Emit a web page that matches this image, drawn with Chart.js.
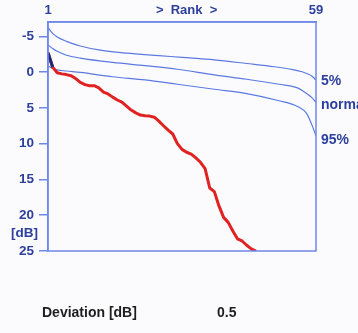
<!DOCTYPE html>
<html>
<head>
<meta charset="utf-8">
<script src="https://cdn.jsdelivr.net/npm/chart.js@4.4.1/dist/chart.umd.min.js"></script>
<style>
  html, body { margin: 0; padding: 0; background: #fbfbfd; }
  #wrap { position: relative; width: 358px; height: 333px; }
</style>
</head>
<body>
<div id="wrap"><canvas id="chart" width="358" height="333"></canvas></div>
<script>
// rank axis (1..59), deviation in dB (axis runs downward)
var yTicks = [-5, 0, 5, 10, 15, 20, 25];
var topTicks = [1, 31, 59];
var topLabels = { 1: '1', 31: '>  Rank  >', 59: '59' };

// measured curve, rank 1..46
var measured = [-2.7, -0.7, 0.1, 0.25, 0.35, 0.5, 0.9, 1.45, 1.75, 1.9,
  1.9, 2.2, 2.8, 3.05, 3.5, 3.9, 4.2, 4.75, 5.3, 5.7,
  6.0, 6.1, 6.15, 6.3, 6.85, 7.5, 8.1, 8.65, 10.0, 10.8,
  11.2, 11.45, 12.0, 12.6, 13.5, 16.2, 16.7, 18.7, 20.3, 21.0,
  22.2, 23.3, 23.6, 24.2, 24.7, 25.0];
var measuredStart = [-2.7, -0.7]; // dark part, ranks 1-2

// reference curves
var p5Rank = [1, 2, 3, 5, 8, 12, 18, 25, 30, 37, 44, 50, 54, 56, 57, 58, 59];
var p5 = [-6.2, -5.4, -4.9, -4.3, -3.65, -3.1, -2.65, -2.3, -2.05, -1.7, -1.2, -0.75, -0.35, -0.05, 0.2, 0.5, 1.1];
var normRank = [1, 2, 3, 5, 8, 15, 22, 29, 37, 44, 51, 55, 57, 58, 59];
var norm = [-3.8, -3.3, -2.9, -2.35, -1.95, -1.35, -0.9, -0.4, 0.4, 1.0, 1.7, 2.2, 3.0, 3.5, 4.25];
var p95Rank = [1, 2, 3, 5, 8, 15, 22, 29, 37, 44, 51, 55, 57, 58, 59];
var p95 = [-0.9, -0.5, -0.3, -0.15, 0.05, 0.65, 1.1, 1.7, 2.4, 3.0, 4.0, 4.8, 5.8, 7.2, 8.9];

var curveLabels = ['5%', 'normal', '95%'];

var blue = '#5b7ae0';
var axisBlue = '#6d88e8';
var textBlue = '#2c3f9c';

function pts(xs, ys) {
  return ys.map(function (v, i) { return { x: xs[i], y: v }; });
}
function seq(ys) {
  return ys.map(function (v, i) { return { x: i + 1, y: v }; });
}

var extras = {
  id: 'extras',
  beforeDraw: function (chart) {
    var c = chart.ctx;
    c.save();
    c.fillStyle = '#fbfbfd';
    c.fillRect(0, 0, chart.width, chart.height);
    c.restore();
  },
  afterDraw: function (chart) {
    var c = chart.ctx, a = chart.chartArea;
    var y = chart.scales.y;
    c.save();
    c.strokeStyle = axisBlue;
    c.lineWidth = 1.5;
    c.strokeRect(a.left, a.top, a.right - a.left, a.bottom - a.top);

    c.font = 'bold 14px "Liberation Sans", Arial, sans-serif';
    c.fillStyle = textBlue;
    c.textBaseline = 'middle';
    c.textAlign = 'left';
    var ends = [p5[p5.length - 1], norm[norm.length - 1], p95[p95.length - 1]];
    var nudge = [1, 3, 4];
    for (var i = 0; i < curveLabels.length; i++) {
      c.fillText(curveLabels[i], a.right + 5, y.getPixelForValue(ends[i]) + nudge[i]);
    }
    c.font = 'bold 13.5px "Liberation Sans", Arial, sans-serif';
    c.textAlign = 'right';
    c.fillText('[dB]', 38, 233);

    c.fillStyle = '#1e1e1e';
    c.textAlign = 'left';
    c.font = 'bold 14px "Liberation Sans", Arial, sans-serif';
    c.fillText('Deviation [dB]', 42, 313);
    c.fillText('0.5', 217, 313);
    c.restore();
  }
};

new Chart(document.getElementById('chart').getContext('2d'), {
  type: 'line',
  data: {
    datasets: [
      { data: seq(measuredStart), borderColor: '#1d2a78', borderWidth: 3, pointRadius: 0, tension: 0 },
      { data: seq(measured), borderColor: '#e02222', borderWidth: 3, pointRadius: 0, tension: 0, borderJoinStyle: 'round' },
      { data: pts(p5Rank, p5), borderColor: blue, borderWidth: 1.2, pointRadius: 0, cubicInterpolationMode: 'monotone' },
      { data: pts(normRank, norm), borderColor: blue, borderWidth: 1.2, pointRadius: 0, cubicInterpolationMode: 'monotone' },
      { data: pts(p95Rank, p95), borderColor: blue, borderWidth: 1.2, pointRadius: 0, cubicInterpolationMode: 'monotone' }
    ]
  },
  options: {
    responsive: false,
    animation: false,
    layout: { padding: { left: 0, right: 42, top: 0, bottom: 82 } },
    plugins: { legend: { display: false }, tooltip: { enabled: false } },
    scales: {
      x: {
        type: 'linear',
        position: 'top',
        min: 1,
        max: 59,
        afterBuildTicks: function (s) { s.ticks = topTicks.map(function (v) { return { value: v }; }); },
        afterFit: function (s) { s.height = 22; },
        grid: { display: false, drawTicks: false },
        border: { color: axisBlue, width: 1.5 },
        ticks: {
          autoSkip: false,
          maxRotation: 0,
          padding: 4,
          color: textBlue,
          font: { family: '"Liberation Sans", Arial, sans-serif', size: 13, weight: 'bold' },
          callback: function (v) { return topLabels[v]; }
        }
      },
      y: {
        reverse: true,
        min: -7,
        max: 25,
        afterBuildTicks: function (s) { s.ticks = yTicks.map(function (v) { return { value: v }; }); },
        afterFit: function (s) { s.width = 48; },
        grid: { drawOnChartArea: false, color: axisBlue, tickLength: 9, lineWidth: 1.5 },
        border: { color: axisBlue, width: 1.5 },
        ticks: {
          padding: 5,
          color: textBlue,
          font: { family: '"Liberation Sans", Arial, sans-serif', size: 13.5, weight: 'bold' }
        }
      }
    }
  },
  plugins: [extras]
});
</script>
</body>
</html>
